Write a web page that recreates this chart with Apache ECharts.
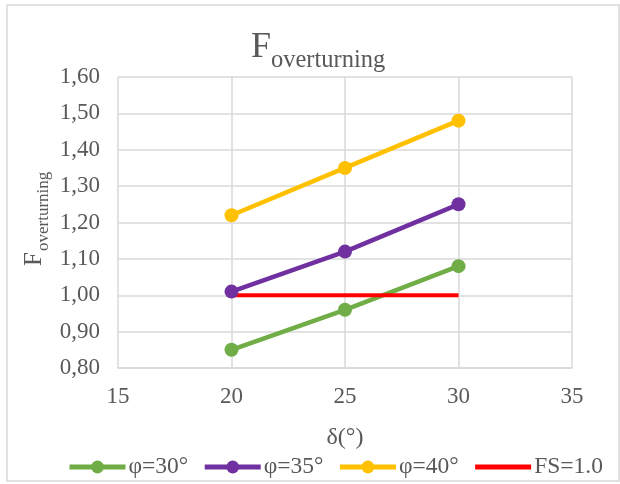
<!DOCTYPE html>
<html>
<head>
<meta charset="utf-8">
<script src="https://cdn.jsdelivr.net/npm/echarts@6/dist/echarts.min.js"></script>
<style>
  html, body { margin: 0; padding: 0; background: #ffffff; }
  #chart { width: 620px; height: 484px; }
</style>
</head>
<body>
<div id="chart"></div>
<script>
// Friction angle at the wall back, δ (degrees)
const deltaValues = [20, 25, 30];
// Overturning safety factor for each soil friction angle φ
const phi30 = [0.85, 0.96, 1.08];
const phi35 = [1.01, 1.12, 1.25];
const phi40 = [1.22, 1.35, 1.48];
// Required safety factor line
const fsDelta = [20, 30];
const fsValues = [1.0, 1.0];

const seriesNames = ['φ=30°', 'φ=35°', 'φ=40°', 'FS=1.0'];
const seriesColors = ['#70AD47', '#7030A0', '#FFC000', '#FF0000'];

const FONT = '"Liberation Serif", "Times New Roman", serif';
const TEXT = '#595959';
const GRID = '#d9d9d9';

function pairs(xs, ys) {
  return xs.map((x, i) => [x, ys[i]]);
}

function lineSeries(name, color, xs, ys, withMarker) {
  return {
    name: name,
    type: 'line',
    data: pairs(xs, ys),
    symbol: withMarker ? 'circle' : 'none',
    symbolSize: 14,
    showSymbol: withMarker,
    lineStyle: { color: color, width: withMarker ? 4.5 : 4 },
    itemStyle: { color: color },
    emphasis: { disabled: true },
    animation: false
  };
}

// legend entries; the FS line has no marker
const legendItems = seriesNames.map((name, i) =>
  i === 3 ? { name: name, itemStyle: { opacity: 0 } } : { name: name }
);

const chart = echarts.init(document.getElementById('chart'), null, { renderer: 'canvas' });

chart.setOption({
  backgroundColor: '#ffffff',
  animation: false,
  grid: { left: 118, right: 48, top: 77, bottom: 116, containLabel: false },
  xAxis: {
    type: 'value',
    min: 15,
    max: 35,
    interval: 5,
    name: 'δ(°)',
    nameLocation: 'middle',
    nameGap: 58,
    nameTextStyle: { fontFamily: FONT, fontSize: 24, color: TEXT },
    axisLine: { show: true, lineStyle: { color: GRID, width: 1.5 } },
    axisTick: { show: false },
    axisLabel: { fontFamily: FONT, fontSize: 23, color: TEXT, margin: 17 },
    splitLine: { show: true, lineStyle: { color: GRID, width: 1.5 } }
  },
  yAxis: {
    type: 'value',
    min: 0.8,
    max: 1.6,
    interval: 0.1,
    axisLine: { show: false },
    axisTick: { show: false },
    axisLabel: {
      fontFamily: FONT, fontSize: 23, color: TEXT, margin: 18,
      formatter: v => v.toFixed(2).replace('.', ',')
    },
    splitLine: { show: true, lineStyle: { color: GRID, width: 1.5 } }
  },
  legend: {
    left: 67,
    top: 455,
    width: 553,
    padding: 0,
    itemWidth: 56,
    itemHeight: 16,
    itemGap: 14,
    data: legendItems,
    lineStyle: { width: 5 },
    textStyle: { fontFamily: FONT, fontSize: 23.5, color: TEXT, padding: [0, 0, 0, -2] },
    selectedMode: false
  },
  series: [
    lineSeries(seriesNames[0], seriesColors[0], deltaValues, phi30, true),
    lineSeries(seriesNames[1], seriesColors[1], deltaValues, phi35, true),
    lineSeries(seriesNames[2], seriesColors[2], deltaValues, phi40, true),
    lineSeries(seriesNames[3], seriesColors[3], fsDelta, fsValues, false)
  ],
  graphic: [
    // chart frame
    {
      type: 'rect',
      silent: true,
      z: -1,
      shape: { x: 7, y: 5, width: 612, height: 476 },
      style: { fill: 'none', stroke: GRID, lineWidth: 1.5 }
    },
    // chart title: F with subscript
    {
      type: 'group',
      x: 251,
      y: 30,
      children: [
        { type: 'text', x: 0, y: 0,
          style: { text: 'F', fontFamily: FONT, fontSize: 36, fill: TEXT, verticalAlign: 'top', align: 'left' } },
        { type: 'text', x: 20, y: 18,
          style: { text: 'overturning', fontFamily: FONT, fontSize: 24.5, fill: TEXT, verticalAlign: 'top', align: 'left' } }
      ]
    },
    // vertical axis title, reading upward
    {
      type: 'group',
      x: 22,
      y: 266,
      rotation: Math.PI / 2,
      children: [
        { type: 'text', x: 0, y: 0,
          style: { text: 'F', fontFamily: FONT, fontSize: 25, fill: TEXT, verticalAlign: 'top', align: 'left' } },
        { type: 'text', x: 15, y: 13,
          style: { text: 'overturning', fontFamily: FONT, fontSize: 17, fill: TEXT, verticalAlign: 'top', align: 'left' } }
      ]
    }
  ]
});
</script>
</body>
</html>
